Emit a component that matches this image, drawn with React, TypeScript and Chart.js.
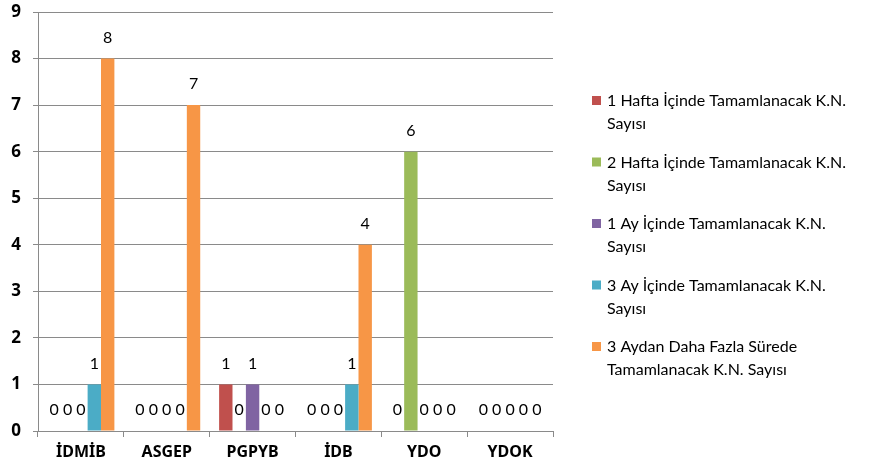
import React, { useEffect, useRef } from "react";
import { Chart, registerables } from "chart.js";

Chart.register(...registerables);

const categories = ["İDMİB", "ASGEP", "PGPYB", "İDB", "YDO", "YDOK"];
const seriesNames = [
  ["1 Hafta İçinde Tamamlanacak K.N.", "Sayısı"],
  ["2 Hafta İçinde Tamamlanacak K.N.", "Sayısı"],
  ["1 Ay İçinde Tamamlanacak K.N.", "Sayısı"],
  ["3 Ay İçinde Tamamlanacak K.N.", "Sayısı"],
  ["3 Aydan Daha Fazla Sürede", "Tamamlanacak K.N. Sayısı"],
];
const hafta1 = [0, 0, 1, 0, 0, 0];
const hafta2 = [0, 0, 0, 0, 6, 0];
const ay1 = [0, 0, 1, 0, 0, 0];
const ay3 = [1, 0, 0, 1, 0, 0];
const ay3plus = [8, 7, 0, 4, 0, 0];
const colors = ["#C0504D", "#9BBB59", "#8064A2", "#4BACC6", "#F79646"];
const yTicks = [0, 1, 2, 3, 4, 5, 6, 7, 8, 9];

const FONT = "Lato, 'Open Sans', sans-serif";
const BOLD = "'Noto Sans', 'Open Sans', sans-serif";

const labelPlugin = {
  id: "valueLabels",
  afterDatasetsDraw(chart: any) {
    const ctx = chart.ctx;
    ctx.save();
    ctx.font = `16px ${FONT}`;
    ctx.fillStyle = "#000";
    ctx.textAlign = "center";
    ctx.textBaseline = "middle";
    chart.data.datasets.forEach((ds: any, i: number) => {
      const meta = chart.getDatasetMeta(i);
      meta.data.forEach((bar: any, j: number) => {
        ctx.fillText(String(ds.data[j]), bar.x, bar.y - 21);
      });
    });
    ctx.restore();
  },
};

const legendPlugin = {
  id: "customLegend",
  afterDraw(chart: any) {
    const ctx = chart.ctx;
    ctx.save();
    ctx.font = `16px ${FONT}`;
    ctx.fillStyle = "#000";
    ctx.textAlign = "left";
    ctx.textBaseline = "middle";
    const x0 = 592;
    const y0 = 101;
    seriesNames.forEach((lines, i) => {
      const y = y0 + i * 61.5;
      ctx.fillStyle = colors[i];
      ctx.fillRect(x0, y - 5, 9, 9);
      ctx.fillStyle = "#000";
      lines.forEach((t, k) => {
        ctx.fillText(t, x0 + 15, y + k * 23);
      });
    });
    ctx.restore();
  },
};

export default function App() {
  const ref = useRef<HTMLCanvasElement>(null);
  useEffect(() => {
    const arrays = [hafta1, hafta2, ay1, ay3, ay3plus];
    const chart = new Chart(ref.current!, {
      type: "bar",
      data: {
        labels: categories,
        datasets: arrays.map((d, i) => ({
          label: seriesNames[i].join(" "),
          data: d,
          backgroundColor: colors[i],
          borderWidth: 0,
          barPercentage: 1,
          categoryPercentage: 0.78,
        })),
      },
      options: {
        animation: false,
        responsive: false,
        maintainAspectRatio: false,
        layout: { padding: { left: 0, right: 320, top: 12, bottom: 0 } },
        plugins: { legend: { display: false }, tooltip: { enabled: false } },
        scales: {
          x: {
            grid: {
              offset: true,
              drawOnChartArea: false,
              color: "#8a8a8a",
              tickLength: 6,
            },
            border: { color: "#8a8a8a" },
            ticks: {
              color: "#000",
              font: { family: BOLD, size: 16, weight: "bold" },
              padding: 6,
            },
            afterFit(scale: any) {
              scale.height = 40;
              scale.paddingLeft = 0;
              scale.paddingRight = 0;
            },
          },
          y: {
            min: 0,
            max: 9,
            afterBuildTicks(scale: any) {
              scale.ticks = yTicks.map((v) => ({ value: v }));
            },
            grid: { color: "#8a8a8a", tickLength: 5 },
            border: { color: "#8a8a8a" },
            ticks: {
              color: "#000",
              font: { family: BOLD, size: 17, weight: "bold" },
              padding: 12,
            },
            afterFit(scale: any) {
              scale.width = 38;
              scale.paddingTop = 0;
              scale.paddingBottom = 0;
            },
          },
        },
      },
      plugins: [labelPlugin, legendPlugin],
    });
    return () => chart.destroy();
  }, []);
  return (
    <div style={{ position: "fixed", left: 0, top: 0, width: 873, height: 471, background: "#fff" }}>
      <canvas ref={ref} width={873} height={471} style={{ width: 873, height: 471 }} />
    </div>
  );
}
